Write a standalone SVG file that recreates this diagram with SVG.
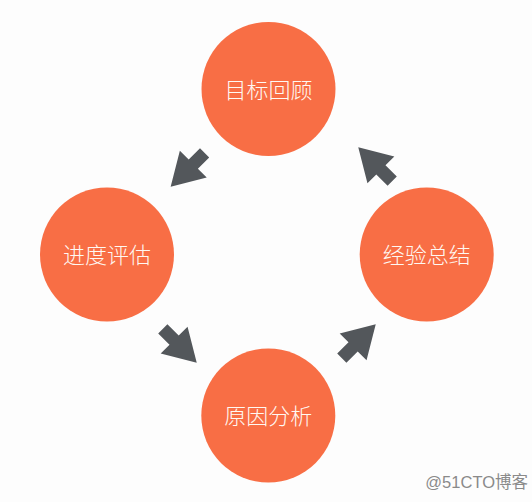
<svg xmlns="http://www.w3.org/2000/svg" width="532" height="502" viewBox="0 0 532 502">
<style>
.c{fill:#f86e45}
.t{fill:#fff8f2;font-family:"Noto Sans CJK SC","Noto Sans",sans-serif;font-size:22px;font-weight:300;text-anchor:middle}
.a{fill:#53575b}
.w{fill:#8a8a8a;font-family:"Liberation Sans","Noto Sans CJK SC",sans-serif;font-size:16.5px}
</style>
<defs>
<polygon id="arr" points="0,-6.5 16,-6.5 16,-19 48,0 16,19 16,6.5 0,6.5"/>
</defs>
<rect width="532" height="502" fill="#fdfdfd"/>
<g id="connectors">
<use href="#arr" class="a" transform="translate(204.6,152.8) rotate(135)"/>
<use href="#arr" class="a" transform="translate(392.2,181.2) rotate(-135)"/>
<use href="#arr" class="a" transform="translate(162.8,328.8) rotate(45)"/>
<use href="#arr" class="a" transform="translate(341.8,358.2) rotate(-45)"/>
</g>
<g id="n1"><circle class="c" cx="268.5" cy="89" r="67"/><text class="t" x="268.5" y="97.5">目标回顾</text></g>
<g id="n2"><circle class="c" cx="107" cy="254.5" r="67"/><text class="t" x="107" y="263">进度评估</text></g>
<g id="n3"><circle class="c" cx="268.3" cy="415.5" r="67"/><text class="t" x="268.3" y="424">原因分析</text></g>
<g id="n4"><circle class="c" cx="426.7" cy="254.5" r="67"/><text class="t" x="426.7" y="263">经验总结</text></g>
<text class="w" x="528" y="488" text-anchor="end">@51CTO博客</text>
</svg>
